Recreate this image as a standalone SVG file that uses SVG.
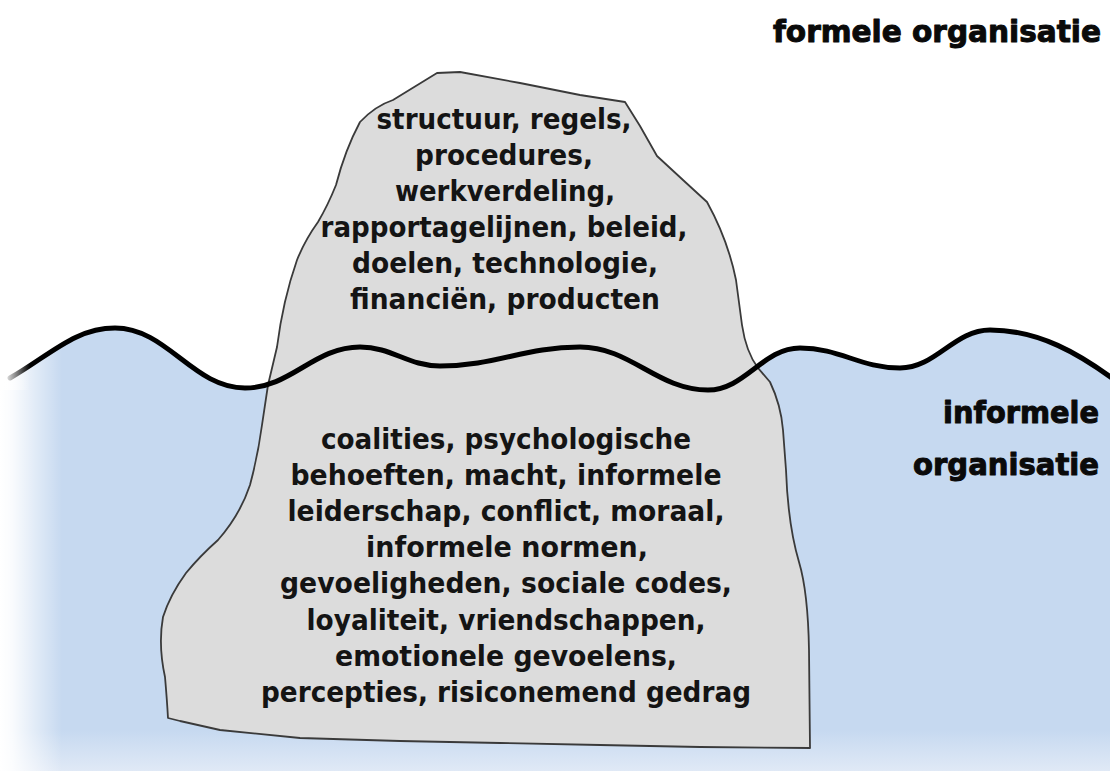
<svg xmlns="http://www.w3.org/2000/svg" width="1110" height="771" viewBox="0 0 1110 771">
  <defs>
    <linearGradient id="leftFade" x1="0" y1="0" x2="1" y2="0">
      <stop offset="0" stop-color="#ffffff" stop-opacity="1"/>
      <stop offset="0.2" stop-color="#ffffff" stop-opacity="0.9"/>
      <stop offset="1" stop-color="#ffffff" stop-opacity="0"/>
    </linearGradient>
    <linearGradient id="bottomFade" x1="0" y1="0" x2="0" y2="1">
      <stop offset="0" stop-color="#e0e9f6" stop-opacity="0"/>
      <stop offset="1" stop-color="#e0e9f6" stop-opacity="1"/>
    </linearGradient>
    <style>
      .item { font-family: "DejaVu Sans", "Liberation Sans", sans-serif; font-weight: bold; font-size: 27.5px; fill: #141414; text-anchor: middle; }
      .head { font-family: "DejaVu Sans", "Liberation Sans", sans-serif; font-weight: bold; font-size: 30px; fill: #0a0a0a; stroke: #0a0a0a; stroke-width: 1; stroke-linejoin: round; text-anchor: end; }
      .berg { fill: #dcdcdc; stroke: #3a3a3a; stroke-width: 1.8; stroke-linejoin: round; }
      .wave { fill: none; stroke: #000000; stroke-width: 5; stroke-linecap: round; }
    </style>
  </defs>

  <rect x="0" y="0" width="1110" height="771" fill="#ffffff"/>

  <g id="water">
    <path fill="#c6d9f0" d="M10,378 C50,355 75,328 115,328 C167,328 193,388 245,388 C291,388 314,347 360,347 C392,347 408,366 440,366 C496,366 524,347 580,347 C631,347 657,390 708,390 C745,390 763,348 800,348 C840,348 860,368 900,368 C936,368 954,330 990,330 C1040,330 1080,355 1112,378 L1110,771 L0,771 L0,384 Z"/>
    <rect x="0" y="730" width="1110" height="41" fill="url(#bottomFade)"/>
    <rect x="0" y="300" width="62" height="471" fill="url(#leftFade)"/>
  </g>

  <g id="iceberg">
    <path class="berg" d="M437,73 L460,72 L520,83 L580,95 L625,102 L640,126 L657,156 L683,180 L707,202 Q728,240 736,280 L742,325 Q746,352 758,368 L770,382 Q781,405 783,430 L786,470 Q788,525 799,562 Q808,592 809,650 L810,748 L700,747 L600,745 L500,743 L400,741 L300,738 L220,730 L180,721 L168,718 Q167,700 165,677 Q158,645 163,617 Q170,595 186,573 Q200,556 218,540 Q240,515 250,485 Q258,455 262,425 L268,385 L277,347 Q283,300 297,260 Q305,240 318,222 Q328,205 336,185 Q345,150 360,122 Q375,106 393,100 Z"/>
  </g>

  <g id="waterline">
    <path class="wave" d="M10,378 C50,355 75,328 115,328 C167,328 193,388 245,388 C291,388 314,347 360,347 C392,347 408,366 440,366 C496,366 524,347 580,347 C631,347 657,390 708,390 C745,390 763,348 800,348 C840,348 860,368 900,368 C936,368 954,330 990,330 C1040,330 1080,355 1112,378"/>
    <rect x="0" y="320" width="30" height="70" fill="url(#leftFade)"/>
  </g>

  <g id="formal-items">
    <text class="item" x="504" y="129" textLength="255" lengthAdjust="spacingAndGlyphs">structuur, regels,</text>
    <text class="item" x="504" y="165" textLength="178" lengthAdjust="spacingAndGlyphs">procedures,</text>
    <text class="item" x="505" y="201" textLength="220" lengthAdjust="spacingAndGlyphs">werkverdeling,</text>
    <text class="item" x="504" y="237" textLength="367" lengthAdjust="spacingAndGlyphs">rapportagelijnen, beleid,</text>
    <text class="item" x="505" y="273" textLength="306" lengthAdjust="spacingAndGlyphs">doelen, technologie,</text>
    <text class="item" x="505" y="309" textLength="310" lengthAdjust="spacingAndGlyphs">financiën, producten</text>
  </g>

  <g id="informal-items">
    <text class="item" x="506" y="449" textLength="370" lengthAdjust="spacingAndGlyphs">coalities, psychologische</text>
    <text class="item" x="506" y="485" textLength="431" lengthAdjust="spacingAndGlyphs">behoeften, macht, informele</text>
    <text class="item" x="506" y="521" textLength="437" lengthAdjust="spacingAndGlyphs">leiderschap, conflict, moraal,</text>
    <text class="item" x="507" y="557" textLength="282" lengthAdjust="spacingAndGlyphs">informele normen,</text>
    <text class="item" x="506" y="593" textLength="452" lengthAdjust="spacingAndGlyphs">gevoeligheden, sociale codes,</text>
    <text class="item" x="506" y="630" textLength="399" lengthAdjust="spacingAndGlyphs">loyaliteit, vriendschappen,</text>
    <text class="item" x="506" y="666" textLength="342" lengthAdjust="spacingAndGlyphs">emotionele gevoelens,</text>
    <text class="item" x="506" y="702" textLength="490" lengthAdjust="spacingAndGlyphs">percepties, risiconemend gedrag</text>
  </g>

  <g id="label-formal">
    <text class="head" x="1101" y="42" textLength="328" lengthAdjust="spacingAndGlyphs">formele organisatie</text>
  </g>
  <g id="label-informal">
    <text class="head" x="1099" y="423" textLength="156" lengthAdjust="spacingAndGlyphs">informele</text>
    <text class="head" x="1099" y="475" textLength="186" lengthAdjust="spacingAndGlyphs">organisatie</text>
  </g>
</svg>
